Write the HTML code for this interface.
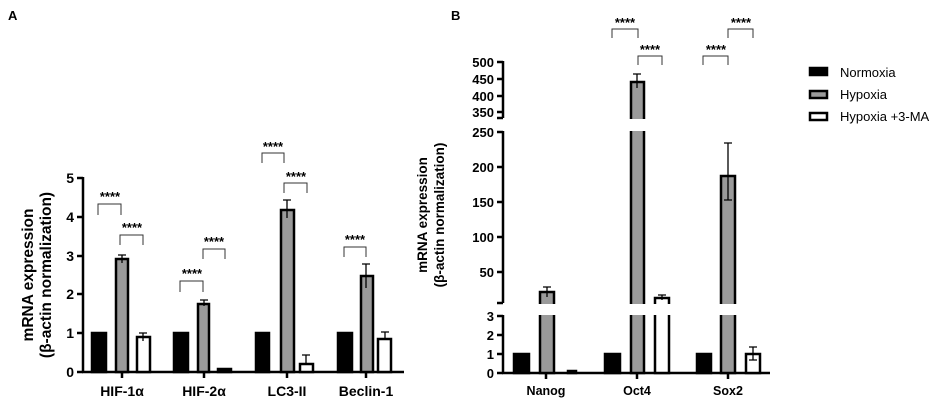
<!DOCTYPE html>
<html><head><style>html,body{margin:0;padding:0;background:#fff}svg{display:block}</style></head>
<body>
<svg width="948" height="413" viewBox="0 0 948 413" xmlns="http://www.w3.org/2000/svg" font-family="Liberation Sans, sans-serif">
<g font-weight="bold" font-size="13"><text x="8" y="20">A</text><text x="451" y="20">B</text></g>
<!-- Panel A -->
<g stroke="#000" stroke-width="2.5">
<line x1="83" y1="177" x2="83" y2="373"/><line x1="82" y1="372" x2="404" y2="372"/>
<line x1="77" y1="178" x2="83" y2="178"/><line x1="77" y1="217" x2="83" y2="217"/><line x1="77" y1="256" x2="83" y2="256"/><line x1="77" y1="294" x2="83" y2="294"/><line x1="77" y1="333" x2="83" y2="333"/><line x1="77" y1="372" x2="83" y2="372"/>
<line x1="122" y1="372" x2="122" y2="378"/><line x1="204" y1="372" x2="204" y2="378"/><line x1="287" y1="372" x2="287" y2="378"/><line x1="366" y1="372" x2="366" y2="378"/>
</g>
<g font-weight="bold" font-size="14" text-anchor="end"><text x="74" y="183">5</text><text x="74" y="222">4</text><text x="74" y="261">3</text><text x="74" y="299">2</text><text x="74" y="338">1</text><text x="74" y="377">0</text></g>
<g font-weight="bold" font-size="14" text-anchor="middle"><text x="122" y="396">HIF-1α</text><text x="204" y="396">HIF-2α</text><text x="287" y="396">LC3-II</text><text x="366" y="396">Beclin-1</text></g>
<g font-weight="bold" font-size="15.5" text-anchor="middle"><text transform="translate(33,275) rotate(-90)">mRNA expression</text><text transform="translate(51,275) rotate(-90)">(β-actin normalization)</text></g>
<g stroke="#000" stroke-width="2.5">
<rect x="92" y="333" width="14" height="39" fill="#000"/><rect x="116" y="259" width="12" height="113" fill="#9a9a9a"/><rect x="137" y="337" width="13" height="35" fill="#fff"/>
<rect x="174" y="333" width="14" height="39" fill="#000"/><rect x="198" y="304" width="11" height="68" fill="#9a9a9a"/><rect x="218" y="369" width="13" height="3" fill="#000"/>
<rect x="256" y="333" width="13" height="39" fill="#000"/><rect x="281" y="210" width="13" height="162" fill="#9a9a9a"/><rect x="300" y="364" width="13" height="8" fill="#fff"/>
<rect x="338" y="333" width="14" height="39" fill="#000"/><rect x="361" y="276" width="12" height="96" fill="#9a9a9a"/><rect x="378" y="339" width="13" height="33" fill="#fff"/>
</g>
<g stroke="#000" stroke-width="1.3" fill="none">
<path d="M122 255V263M118 255H126M143 333V341M139 333H147M204 300V306M200 300H208M287 200V218M283 200H291M306 355V364M302 355H310M366 264V288M362 264H370M385 332V340M381 332H389"/>
</g>
<g stroke="#333" stroke-width="1" fill="none">
<path d="M98 215V204H121V215M120 245V235H143V245M180 292V281H203V292M203 259V249H225V259M262 163V153H284V163M284 193V183H307V193M344 257V247H366V257"/>
<path d="M612 38V29H638V38M638 65V56H662V65M703 65V56H728V65M728 38V29H753V38"/>
</g>
<g font-size="13" font-weight="bold" text-anchor="middle"><text x="110" y="201">****</text><text x="132" y="232">****</text><text x="192" y="278">****</text><text x="214" y="246">****</text><text x="273" y="151">****</text><text x="296" y="181">****</text><text x="355" y="244">****</text>
<text x="625" y="27">****</text><text x="650" y="54">****</text><text x="716" y="54">****</text><text x="741" y="27">****</text></g>
<!-- Panel B -->
<g stroke="#000" stroke-width="2.5">
<line x1="503" y1="61" x2="503" y2="118"/><line x1="497" y1="118" x2="503" y2="118"/>
<line x1="503" y1="131" x2="503" y2="303"/><line x1="497" y1="132" x2="503" y2="132"/><line x1="497" y1="303" x2="503" y2="303"/>
<line x1="503" y1="315" x2="503" y2="373"/><line x1="502" y1="373" x2="770" y2="373"/>
<path d="M497 62H503M497 79H503M497 96H503M497 112H503M497 167H503M497 202H503M497 237H503M497 272H503M497 316H503M497 335H503M497 354H503M497 373H503"/>
<path d="M546 373V379M637 373V379M728 373V379"/>
</g>
<g font-weight="bold" font-size="13" text-anchor="end"><text x="494" y="67">500</text><text x="494" y="84">450</text><text x="494" y="101">400</text><text x="494" y="117">350</text><text x="494" y="137">250</text><text x="494" y="172">200</text><text x="494" y="207">150</text><text x="494" y="242">100</text><text x="494" y="277">50</text><text x="494" y="321">3</text><text x="494" y="340">2</text><text x="494" y="359">1</text><text x="494" y="378">0</text></g>
<g font-weight="bold" font-size="12.5" text-anchor="middle"><text x="546" y="395">Nanog</text><text x="637" y="395">Oct4</text><text x="728" y="395">Sox2</text></g>
<g font-weight="bold" font-size="13.5" text-anchor="middle"><text transform="translate(427,215) rotate(-90)">mRNA expression</text><text transform="translate(444,215) rotate(-90)">(β-actin normalization)</text></g>
<g stroke="#000" stroke-width="2.5">
<rect x="514" y="354" width="15" height="19" fill="#000"/><rect x="568" y="371" width="8" height="2" fill="#000"/>
<rect x="540" y="292" width="14" height="81" fill="#9a9a9a"/>
<rect x="605" y="354" width="15" height="19" fill="#000"/><rect x="631" y="82" width="13" height="291" fill="#9a9a9a"/><rect x="655" y="298" width="14" height="75" fill="#fff"/>
<rect x="697" y="354" width="14" height="19" fill="#000"/><rect x="721" y="176" width="14" height="197" fill="#9a9a9a"/><rect x="746" y="354" width="14" height="19" fill="#fff"/>
</g>
<rect x="520" y="119" width="260" height="12" fill="#fff"/>
<rect x="520" y="304" width="260" height="11" fill="#fff"/>
<g stroke="#000" stroke-width="1.3" fill="none">
<path d="M547 287V297M543 287H551M637 74V88M633 74H641M662 295V300M658 295H666M728 143V200M724 143H732M724 200H732M753 347V360M749 347H757M749 360H757"/>
</g>
<!-- legend -->
<g stroke="#000" stroke-width="2.5"><rect x="810" y="68" width="17" height="7" fill="#000"/><rect x="810" y="91" width="17" height="7" fill="#9a9a9a"/><rect x="810" y="113" width="17" height="7" fill="#fff"/></g>
<g font-size="13"><text x="840" y="77">Normoxia</text><text x="840" y="99">Hypoxia</text><text x="840" y="121">Hypoxia +3-MA</text></g>
</svg>
</body></html>
